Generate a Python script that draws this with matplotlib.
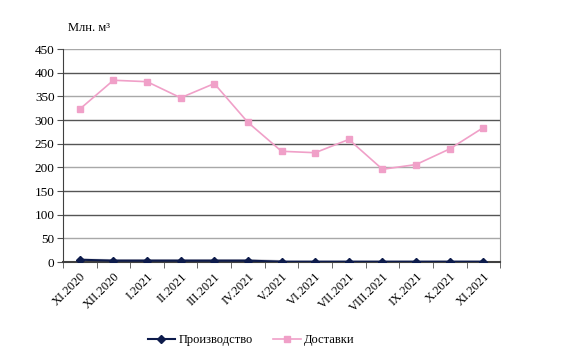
import numpy as np
import matplotlib.pyplot as plt

months = ["XI.2020", "XII.2020", "I.2021", "II.2021", "III.2021", "IV.2021", "V.2021",
          "VI.2021", "VII.2021", "VIII.2021", "IX.2021", "X.2021", "XI.2021"]
proizvodstvo = [5, 3, 3, 3, 3, 3, 1, 1, 1, 1, 1, 1, 1]
dostavki = [323, 384, 381, 347, 377, 295, 234, 231, 259, 196, 206, 239, 284]
# faint grey series hidden behind production line
fon = [3, 2, 2, 2, 2, 2, 0, 0, 0, 0, 0, 0, 0]
yticks = [0, 50, 100, 150, 200, 250, 300, 350, 400, 450]

plt.rcParams['font.family'] = ['Liberation Serif', 'DejaVu Serif']

fig = plt.figure(figsize=(5.62, 3.63), dpi=100)
ax = fig.add_axes([0.112, 0.278, 0.778, 0.587])
x = np.arange(len(months))

# gridlines, excel style
grid_cols = {50: '#a8a8a8', 100: '#555555', 150: '#555555', 200: '#a8a8a8',
             250: '#555555', 300: '#555555', 350: '#a8a8a8', 400: '#555555', 450: '#a8a8a8'}
for v, c in grid_cols.items():
    ax.axhline(v, color=c, lw=1.0, zorder=1)

ax.plot(x[:7], fon[:7], color='#8a8a9a', lw=3, alpha=0.6, zorder=2)
ax.plot(x, proizvodstvo, color='#0d1b4b', marker='D', ms=4.5, lw=1.5, label='Производство', zorder=4)
ax.plot(x, dostavki, color='#f0a0c8', marker='s', ms=5, lw=1.2, label='Доставки', zorder=3)

ax.set_xlim(-0.5, len(months) - 0.5)
ax.set_ylim(0, 450)
ax.set_yticks(yticks)
ax.set_xticks(x)
ax.set_xticklabels(months, rotation=45, ha='right', rotation_mode='anchor', fontsize=9)
ax.set_xticks(np.arange(-0.5, len(months)), minor=True)
ax.tick_params(axis='x', which='major', length=0, pad=6)
ax.tick_params(axis='x', which='minor', length=4, color='#505050')
ax.tick_params(axis='y', labelsize=9.5, length=4, color='#505050', pad=2)

ax.spines['top'].set_visible(False)
ax.spines['right'].set_color('#909090')
ax.spines['left'].set_color('#404040')
ax.spines['bottom'].set_color('#404040')
ax.spines['bottom'].set_linewidth(1.5)

fig.text(0.121, 0.915, 'Млн. м³', fontsize=9, ha='left')

fig.legend(loc='center', bbox_to_anchor=(0.447, 0.063), ncol=2, frameon=False, fontsize=9,
           handlelength=2.2, handletextpad=0.3, columnspacing=1.6)

fig.savefig('out.png', dpi=100)
